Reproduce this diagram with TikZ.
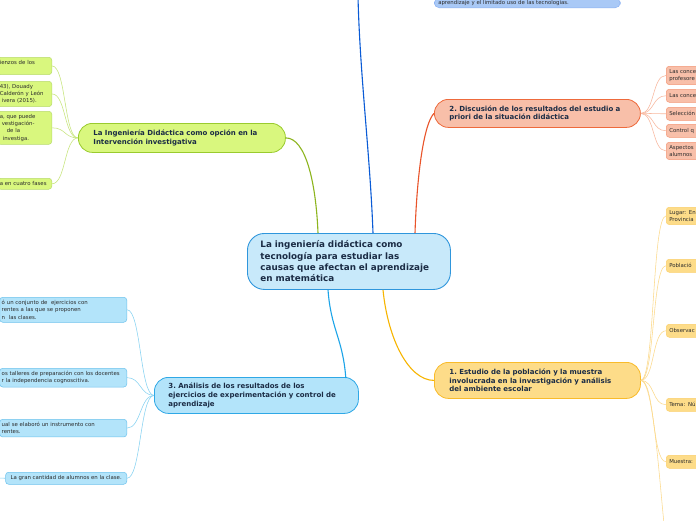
\documentclass[tikz,border=0pt]{standalone}
\usepackage{fontspec}
\setmainfont{DejaVu Sans}
\usetikzlibrary{positioning,calc}
\definecolor{deepink}{HTML}{1B2C45}
\definecolor{leafink}{HTML}{2B2B2B}
\definecolor{cenfill}{HTML}{C8E9FA}
\definecolor{cenline}{HTML}{2F96DC}
\definecolor{grnfill}{HTML}{D9F77E}
\definecolor{grnline}{HTML}{9ACB2E}
\definecolor{grnbranch}{HTML}{8DB51E}
\definecolor{grntwig}{HTML}{C6E57A}
\definecolor{ornfill}{HTML}{F8BFA9}
\definecolor{ornline}{HTML}{EE6A3C}
\definecolor{ornbranch}{HTML}{E9542A}
\definecolor{orntwig}{HTML}{F8B79E}
\definecolor{yelfill}{HTML}{FDDC89}
\definecolor{yelline}{HTML}{F9BB2A}
\definecolor{yelbranch}{HTML}{F7B500}
\definecolor{yeltwig}{HTML}{FCD98A}
\definecolor{cynfill}{HTML}{B3E4FA}
\definecolor{cynline}{HTML}{2FA8E6}
\definecolor{cynbranch}{HTML}{1CA4E8}
\definecolor{cyntwig}{HTML}{86D2F2}
\definecolor{blufill}{HTML}{A9C9F6}
\definecolor{bluline}{HTML}{5A90EE}
\definecolor{blubranch}{HTML}{0A5BD6}
\tikzset{
  central/.style={draw=cenline, fill=cenfill, line width=0.9pt, rounded corners=17pt, anchor=north west, inner xsep=13pt, text width=177pt, minimum height=56pt, align=left, font=\fontsize{8.8}{11.3}\selectfont\bfseries, text=deepink},
  topic/.style={draw=#1line, fill=#1fill, line width=0.8pt, rounded corners=14pt, anchor=north west, align=left, font=\fontsize{7}{8.6}\selectfont\bfseries, text=deepink},
  leaf/.style={draw=#1line!70, fill=#1fill, line width=0.5pt, rounded corners=3pt, inner xsep=2pt, inner ysep=3pt, minimum height=13pt, align=left, font=\fontsize{5.4}{7.3}\selectfont, text=leafink},
  branch/.style={draw=#1, line width=1.1pt},
  twig/.style={draw=#1, line width=0.55pt}
}
\begin{document}
\begin{tikzpicture}[x=1pt, y=-1pt]
  \useasboundingbox (0,0) rectangle (696,520);
  \clip (0,0) rectangle (696,520);
  \fill[white] (0,0) rectangle (696,520);

  \node[central] (cen) at (247,233) {La ingeniería didáctica como\\tecnología para estudiar las\\causas que afectan el aprendizaje\\en matemática};

  \node[topic=grn, inner xsep=15pt, text width=177pt, minimum height=29pt] (grn) at (78,123) {La Ingeniería Didáctica como opción en la\\Intervención investigativa};
  \node[topic=orn, inner xsep=15pt, text width=176pt, minimum height=28pt] (orn) at (434,99) {2.\ Discusión de los resultados del estudio a\\priori de la situación didáctica};
  \node[topic=yel, inner xsep=15pt, text width=176pt, minimum height=36pt] (yel) at (434,362) {1.\ Estudio de la población y la muestra\\involucrada en la investigación y análisis\\del ambiente escolar};
  \node[topic=cyn, inner xsep=14pt, text width=176pt, minimum height=36pt] (cyn) at (154,377) {3.\ Análisis de los resultados de los\\ejercicios de experimentación y control de\\aprendizaje};

  \node[leaf=blu, anchor=south west, text width=178pt, inner xsep=4pt, inner ysep=2pt, minimum height=8pt, rounded corners=5pt] (bluA) at (434,8) {aprendizaje y el limitado uso de las tecnologías.};
  \coordinate (bluTop) at (358,-3);

  \node[leaf=grn, anchor=north east, text width=50pt] (grnA) at (52,57) {ienzos de los\\~};
  \node[leaf=grn, anchor=north east, text width=50pt] (grnB) at (52,81) {43), Douady\\Calderón y León\\\hspace*{2pt}ivera (2015).};
  \node[leaf=grn, anchor=north east, text width=50pt] (grnC) at (52,111) {a, que puede\\\hspace*{2pt}vestigación-\\\hspace*{7pt}de la\\\hspace*{3pt}investiga.};
  \node[leaf=grn, anchor=north east, text width=50pt, minimum height=11pt, inner ysep=2pt] (grnD) at (52,178) {a en cuatro fases};

  \node[leaf=orn, anchor=north west, text width=40pt, inner xsep=3pt] (ornA) at (666,66) {Las conce\\profesore};
  \node[leaf=orn, anchor=north west, text width=40pt, inner xsep=3pt] (ornB) at (666,89) {Las conce};
  \node[leaf=orn, anchor=north west, text width=40pt, inner xsep=3pt] (ornC) at (666,107) {Selección};
  \node[leaf=orn, anchor=north west, text width=40pt, inner xsep=3pt] (ornD) at (666,124) {Control q};
  \node[leaf=orn, anchor=north west, text width=40pt, inner xsep=3pt] (ornE) at (666,142) {Aspectos\\alumnos};

  \node[leaf=yel, anchor=north west, text width=40pt, inner xsep=3pt] (yelA) at (666,207) {Lugar: En\\Provincia};
  \node[leaf=yel, anchor=north west, text width=40pt, inner xsep=3pt] (yelB) at (666,259) {Població};
  \node[leaf=yel, anchor=north west, text width=40pt, inner xsep=3pt] (yelC) at (666,324) {Observac};
  \node[leaf=yel, anchor=north west, text width=40pt, inner xsep=3pt] (yelD) at (666,398) {Tema: Nú};
  \node[leaf=yel, anchor=north west, text width=40pt, inner xsep=3pt] (yelE) at (666,455) {Muestra:};
  \coordinate (yelOff) at (668,560);

  \node[leaf=cyn, anchor=north east, text width=123pt] (cynA) at (127,297) {ó un conjunto de\ \ ejercicios con\\rentes a las que se proponen\\n\ \ las clases.};
  \node[leaf=cyn, anchor=north east, text width=123pt] (cynB) at (127,368) {os talleres de preparación con los docentes\\r la independencia cognoscitiva.};
  \node[leaf=cyn, anchor=north east, text width=123pt] (cynC) at (127,419) {ual se elaboró un instrumento con\\rentes.};
  \node[leaf=cyn, anchor=north east, inner xsep=5pt, minimum height=12pt, inner ysep=2pt] (cynD) at (127,472) {La gran cantidad de alumnos en la clase.};
  \coordinate (cynOff) at (-6,478);

  \draw[branch=grnbranch] ([xshift=71pt]cen.north west) .. controls +(-2,-50) and +(20,0) .. (grn.east);
  \draw[branch=blubranch] ([xshift=126pt]cen.north west) .. controls +(-3,-80) and +(2,80) .. (bluTop);
  \draw[branch=ornbranch] ([xshift=168pt]cen.north west) .. controls +(2,-60) and +(-10,10) .. (orn.west);
  \draw[branch=yelbranch] ([xshift=136pt]cen.south west) .. controls +(5,50) and +(-25,0) .. (yel.west);
  \draw[branch=cynbranch] ([xshift=81pt]cen.south west) .. controls +(3,40) and +(-3,-40) .. ([xshift=-13pt,yshift=-1pt]cyn.north east);

  \foreach \leafname in {grnA,grnB,grnC,grnD}
    \draw[twig=grntwig] (grn.west) .. controls +(-14,0) and +(14,0) .. (\leafname.east);
  \foreach \leafname in {ornA,ornB,ornC,ornD,ornE}
    \draw[twig=orntwig] (orn.east) .. controls +(14,0) and +(-14,0) .. (\leafname.west);
  \foreach \leafname in {yelA,yelB,yelC,yelD,yelE}
    \draw[twig=yeltwig] (yel.east) .. controls +(14,0) and +(-14,0) .. (\leafname.west);
  \draw[twig=yeltwig] (yel.east) .. controls +(14,0) and +(-8,-60) .. (yelOff);
  \foreach \leafname in {cynA,cynB,cynC,cynD}
    \draw[twig=cyntwig] (cyn.west) .. controls +(-14,0) and +(14,0) .. (\leafname.east);
  \draw[twig=cyntwig] (cynD.west) -- (cynOff);
\end{tikzpicture}
\end{document}
